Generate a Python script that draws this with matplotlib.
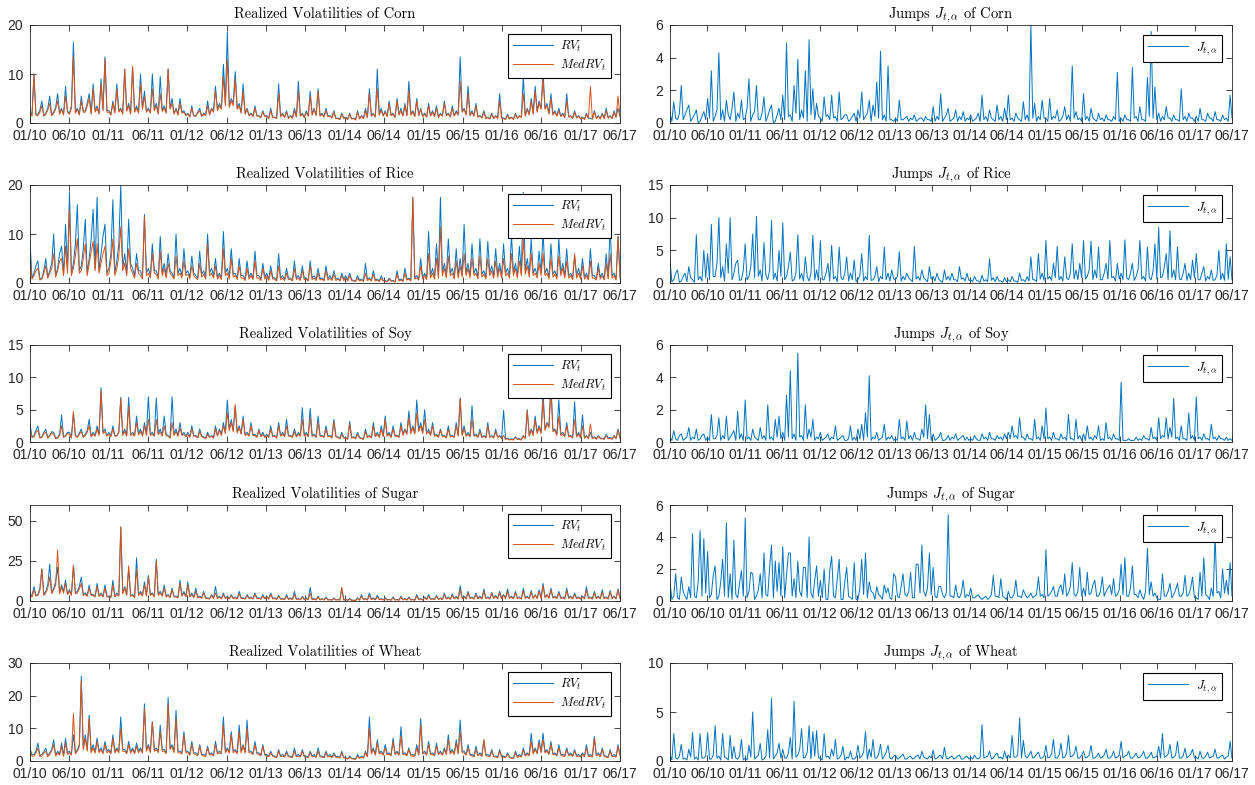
import numpy as np
import matplotlib
matplotlib.use('Agg')
import matplotlib.pyplot as plt

plt.rcParams['mathtext.fontset'] = 'cm'
plt.rcParams['font.family'] = ['Liberation Sans', 'DejaVu Sans']

########
# Data #
########

date_labels = ['01/10', '06/10', '01/11', '06/11', '01/12', '06/12', '01/13', '06/13',
               '01/14', '06/14', '01/15', '06/15', '01/16', '06/16', '01/17', '06/17']

# one row of 20 readings per tick interval (01/10-06/10, 06/10-01/11, ...)
corn_rv = [2.5, 1.5, 10.0, 1.8, 1.8, 2.6, 4.5, 1.5, 2.0, 3.0, 5.5, 1.6, 2.2, 3.2, 6.0, 2.0, 3.0, 1.8, 7.5, 2.4,
           2.0, 3.5, 16.5, 2.2, 3.0, 1.8, 5.5, 2.4, 2.5, 4.0, 6.0, 2.0, 8.0, 2.5, 3.5, 2.0, 9.0, 2.8, 13.5, 2.5,
           2.5, 1.8, 4.5, 2.2, 8.0, 2.5, 3.0, 2.0, 11.0, 2.6, 4.0, 2.0, 11.5, 2.4, 3.5, 2.2, 10.0, 3.0, 6.5, 2.5,
           3.0, 2.2, 10.0, 2.8, 4.0, 2.0, 9.5, 2.6, 3.5, 2.2, 11.0, 3.0, 5.0, 2.0, 3.0, 1.8, 5.0, 2.2, 2.5, 1.6,
           2.0, 1.3, 3.5, 1.5, 1.5, 2.2, 3.0, 1.4, 2.0, 1.6, 4.5, 1.8, 3.0, 2.5, 7.5, 2.8, 4.0, 3.0, 12.0, 4.0,
           18.5, 3.5, 5.0, 4.0, 10.5, 3.0, 4.0, 2.2, 8.0, 2.0, 3.0, 1.6, 2.0, 1.4, 3.5, 1.5, 1.5, 1.2, 2.5, 1.4,
           1.5, 1.0, 3.0, 1.2, 1.2, 1.0, 8.0, 1.4, 2.0, 1.2, 2.5, 1.0, 1.5, 1.1, 3.0, 1.3, 8.5, 1.5, 2.0, 1.2,
           2.5, 1.5, 6.5, 1.8, 3.0, 1.6, 7.0, 1.5, 2.0, 1.3, 3.0, 1.4, 1.5, 1.1, 2.5, 1.0, 1.0, 0.8, 2.0, 1.0,
           1.2, 0.8, 2.0, 0.9, 1.0, 0.7, 2.5, 0.9, 1.5, 1.0, 3.0, 1.2, 7.0, 1.5, 2.0, 1.3, 11.0, 1.8, 3.0, 1.5,
           2.5, 1.4, 4.5, 1.6, 2.0, 1.2, 5.0, 1.8, 3.0, 1.5, 4.0, 1.6, 8.5, 1.8, 2.5, 1.4, 5.0, 1.6, 3.0, 1.4,
           2.0, 1.3, 4.0, 1.5, 2.5, 1.4, 3.5, 1.2, 2.0, 1.5, 4.5, 1.6, 2.0, 1.3, 3.5, 1.5, 2.5, 1.8, 13.5, 2.5,
           3.0, 1.8, 7.5, 1.6, 2.5, 1.5, 4.0, 1.3, 1.5, 1.1, 2.5, 1.0, 1.2, 0.9, 2.0, 1.0, 1.5, 1.0, 6.0, 1.1,
           1.0, 0.8, 1.8, 0.9, 1.2, 0.8, 2.0, 1.0, 1.5, 1.2, 9.5, 1.5, 3.0, 1.8, 5.0, 2.0, 7.5, 2.5, 4.5, 3.0,
           10.5, 3.0, 4.0, 2.0, 6.0, 1.8, 2.5, 1.5, 3.0, 1.4, 2.0, 1.2, 6.0, 1.3, 1.5, 1.0, 2.5, 1.1, 1.5, 0.9,
           1.2, 0.8, 2.0, 1.0, 1.0, 0.8, 2.5, 1.0, 1.5, 0.9, 2.0, 1.0, 3.0, 1.1, 1.5, 1.0, 2.5, 1.2, 3.0, 1.4]
corn_medrv = [2.2, 1.4, 10.0, 1.6, 1.5, 2.2, 3.5, 1.4, 1.8, 2.6, 4.0, 1.5, 2.0, 2.8, 4.5, 1.8, 2.8, 1.6, 5.5, 2.2,
              1.8, 3.0, 13.5, 2.0, 2.8, 1.6, 4.5, 2.2, 2.2, 3.5, 5.0, 1.8, 7.0, 2.2, 3.0, 1.8, 8.0, 2.5, 13.0, 2.2,
              2.2, 1.6, 4.0, 2.0, 7.0, 2.2, 2.8, 1.8, 11.0, 2.4, 3.5, 1.8, 11.5, 2.2, 3.0, 2.0, 8.0, 2.8, 5.5, 2.2,
              2.8, 2.0, 7.0, 2.5, 3.5, 1.8, 6.0, 2.4, 3.0, 2.0, 11.0, 2.8, 4.0, 1.8, 2.8, 1.6, 4.0, 2.0, 2.2, 1.5,
              1.8, 1.2, 3.0, 1.4, 1.4, 2.0, 2.5, 1.3, 1.8, 1.5, 3.5, 1.6, 2.8, 2.2, 6.5, 2.5, 3.5, 2.8, 9.5, 3.5,
              13.0, 3.2, 4.5, 3.5, 9.0, 2.8, 3.5, 2.0, 6.5, 1.8, 2.8, 1.5, 1.8, 1.3, 3.0, 1.4, 1.4, 1.1, 2.2, 1.3,
              1.4, 0.9, 2.5, 1.1, 1.1, 0.9, 6.0, 1.3, 1.8, 1.1, 2.2, 0.9, 1.4, 1.0, 2.5, 1.2, 6.5, 1.4, 1.8, 1.1,
              2.2, 1.4, 5.5, 1.6, 2.8, 1.5, 6.5, 1.4, 1.8, 1.2, 2.5, 1.3, 1.4, 1.0, 2.2, 0.9, 0.9, 0.7, 1.8, 0.9,
              1.1, 0.7, 1.8, 0.8, 0.9, 0.6, 2.2, 0.8, 1.4, 0.9, 2.5, 1.1, 6.0, 1.4, 1.8, 1.2, 7.0, 1.6, 2.5, 1.4,
              2.2, 1.3, 4.0, 1.5, 1.8, 1.1, 4.5, 1.6, 2.5, 1.4, 3.5, 1.5, 6.5, 1.6, 2.2, 1.3, 4.5, 1.5, 2.8, 1.3,
              1.8, 1.2, 3.5, 1.4, 2.2, 1.3, 3.0, 1.1, 1.8, 1.4, 4.0, 1.5, 1.8, 1.2, 3.0, 1.4, 2.2, 1.6, 8.5, 2.2,
              2.8, 1.6, 6.0, 1.5, 2.2, 1.4, 3.5, 1.2, 1.4, 1.0, 2.2, 0.9, 1.1, 0.8, 1.8, 0.9, 1.4, 0.9, 4.5, 1.0,
              0.9, 0.7, 1.6, 0.8, 1.1, 0.7, 1.8, 0.9, 1.4, 1.1, 6.0, 1.4, 2.8, 1.6, 4.5, 1.8, 6.5, 2.2, 4.0, 2.8,
              9.0, 2.8, 3.5, 1.8, 5.0, 1.6, 2.2, 1.4, 2.5, 1.3, 1.8, 1.1, 4.5, 1.2, 1.4, 0.9, 2.2, 1.0, 1.4, 0.8,
              1.1, 0.7, 1.8, 0.9, 7.5, 0.8, 2.2, 0.9, 1.4, 0.8, 1.8, 0.9, 2.5, 1.0, 1.4, 0.9, 2.2, 1.1, 5.5, 1.3]
corn_jump = [0.6, 0.1, 1.3, 0.3, 0.2, 0.6, 2.3, 0.2, 0.5, 0.8, 1.1, 0.1, 0.3, 0.5, 0.8, 0.0, 0.1, 0.4, 0.7, 0.2,
             1.5, 0.3, 3.2, 0.1, 0.4, 0.8, 4.3, 0.2, 0.8, 0.1, 1.4, 0.5, 0.2, 0.9, 1.9, 0.1, 0.6, 0.3, 1.4, 0.2,
             0.3, 0.9, 2.7, 0.1, 0.5, 0.7, 2.3, 0.2, 0.2, 0.6, 1.6, 0.1, 0.4, 0.8, 1.1, 0.0, 0.1, 0.5, 0.9, 0.2,
             1.7, 0.2, 4.9, 0.4, 0.5, 0.1, 2.3, 0.6, 3.9, 0.2, 0.8, 0.3, 3.2, 0.1, 5.1, 0.5, 2.1, 0.2, 1.2, 0.4,
             0.3, 0.1, 1.6, 0.4, 0.5, 0.2, 1.7, 0.3, 0.4, 0.1, 1.9, 0.2, 0.3, 0.5, 0.5, 0.1, 0.2, 0.4, 0.6, 0.1,
             0.8, 0.3, 1.9, 0.2, 0.4, 0.6, 1.4, 0.1, 1.1, 0.4, 2.5, 0.3, 4.4, 0.2, 0.5, 0.1, 3.5, 0.2, 0.2, 0.1,
             0.3, 0.1, 1.4, 0.2, 0.2, 0.3, 0.4, 0.1, 0.3, 0.2, 0.5, 0.1, 0.2, 0.3, 0.3, 0.1, 0.4, 0.2, 0.2, 0.1,
             1.0, 0.1, 0.4, 0.2, 1.8, 0.1, 0.3, 0.5, 0.9, 0.1, 0.2, 0.3, 0.8, 0.1, 0.4, 0.2, 0.7, 0.1, 0.3, 0.2,
             0.5, 0.1, 0.2, 0.3, 0.6, 0.1, 1.7, 0.2, 0.4, 0.1, 0.8, 0.3, 0.2, 0.1, 1.1, 0.2, 0.4, 0.1, 0.9, 0.2,
             1.7, 0.2, 0.3, 0.1, 0.6, 0.3, 0.2, 0.1, 1.3, 0.2, 0.5, 0.1, 6.0, 0.3, 1.2, 0.1, 0.4, 0.2, 1.4, 0.3,
             0.3, 0.1, 1.5, 0.2, 0.4, 0.3, 0.8, 0.1, 0.2, 0.4, 1.0, 0.2, 0.5, 0.1, 3.5, 0.3, 0.7, 0.2, 0.3, 0.1,
             1.8, 0.2, 0.4, 0.1, 0.9, 0.3, 0.2, 0.1, 0.6, 0.2, 0.3, 0.1, 0.5, 0.2, 0.2, 0.1, 0.4, 0.2, 3.1, 0.1,
             0.3, 0.1, 0.5, 0.2, 0.2, 0.1, 3.4, 0.3, 0.4, 0.1, 1.0, 0.2, 0.2, 0.1, 2.8, 0.4, 5.6, 0.3, 2.2, 0.2,
             0.6, 0.1, 0.4, 0.2, 1.0, 0.3, 0.3, 0.1, 0.5, 0.2, 0.2, 0.1, 2.1, 0.2, 0.4, 0.1, 0.6, 0.3, 0.3, 0.1,
             0.4, 0.1, 0.9, 0.2, 0.2, 0.1, 0.6, 0.3, 0.3, 0.1, 0.7, 0.2, 0.2, 0.1, 0.5, 0.2, 0.3, 0.1, 1.7, 0.3]

rice_rv = [8.5, 1.0, 2.0, 3.5, 4.5, 0.8, 1.0, 2.5, 5.0, 1.2, 2.5, 4.0, 10.0, 1.5, 3.0, 6.0, 7.5, 1.8, 12.0, 2.5,
           18.5, 2.0, 4.0, 8.0, 16.0, 2.5, 3.5, 7.0, 13.0, 2.0, 5.0, 9.0, 15.0, 3.0, 17.5, 2.5, 6.0, 9.5, 12.0, 2.0,
           3.0, 6.0, 17.0, 2.0, 4.5, 8.0, 20.0, 3.0, 6.0, 2.0, 13.0, 4.0, 3.0, 1.5, 6.0, 2.5, 2.5, 1.2, 14.0, 2.0,
           3.0, 1.5, 8.0, 2.5, 2.5, 1.2, 9.5, 2.0, 4.0, 1.5, 6.0, 2.5, 2.0, 1.2, 10.0, 2.0, 3.0, 1.5, 7.0, 2.0,
           2.5, 1.2, 5.5, 2.0, 1.5, 1.0, 6.5, 1.8, 2.5, 1.2, 10.0, 2.0, 3.0, 1.5, 5.0, 1.2, 2.0, 1.0, 10.5, 2.0,
           3.0, 1.2, 7.0, 1.8, 2.0, 1.0, 5.0, 1.5, 1.5, 0.8, 4.5, 1.2, 2.0, 1.0, 6.5, 1.5, 1.5, 0.8, 4.0, 1.2,
           2.0, 0.8, 3.5, 1.2, 1.0, 0.6, 6.0, 1.0, 1.5, 0.7, 3.0, 1.0, 1.0, 0.6, 4.5, 1.0, 1.5, 0.7, 3.5, 1.0,
           1.0, 0.6, 4.5, 1.0, 1.5, 0.7, 3.0, 0.9, 1.0, 0.6, 3.5, 0.9, 1.5, 0.7, 2.5, 0.8, 1.0, 0.5, 2.0, 0.8,
           1.5, 0.6, 2.0, 0.7, 0.5, 0.4, 1.5, 0.6, 0.8, 0.4, 4.0, 0.7, 1.0, 0.5, 2.5, 0.6, 0.8, 0.4, 1.5, 0.5,
           0.5, 0.3, 1.0, 0.5, 0.5, 0.3, 2.5, 0.6, 0.8, 0.4, 3.0, 0.8, 1.0, 0.6, 17.5, 1.0, 1.5, 0.8, 5.0, 1.0,
           2.0, 1.0, 10.5, 1.5, 3.0, 1.2, 8.0, 1.5, 17.5, 2.0, 4.0, 1.5, 9.0, 2.0, 3.0, 1.2, 7.0, 1.5, 5.0, 1.8,
           12.0, 2.0, 4.0, 1.5, 8.0, 2.0, 3.0, 1.2, 9.0, 1.8, 2.5, 1.2, 8.5, 2.0, 3.5, 1.5, 7.0, 1.8, 4.0, 1.5,
           8.0, 2.0, 3.0, 1.5, 10.0, 2.0, 4.0, 1.5, 7.5, 2.0, 18.5, 2.5, 5.0, 1.8, 9.0, 2.0, 3.0, 1.5, 6.5, 2.0,
           10.5, 2.0, 3.0, 1.2, 8.0, 1.8, 2.5, 1.2, 9.0, 2.0, 4.0, 1.5, 7.0, 1.5, 2.0, 1.0, 5.5, 1.5, 3.0, 1.2,
           5.0, 1.2, 2.0, 0.8, 7.0, 1.5, 1.5, 0.8, 4.0, 1.2, 2.0, 0.8, 6.0, 1.2, 11.5, 1.5, 2.0, 0.8, 9.5, 1.5]
rice_medrv = [5.5, 0.8, 1.5, 2.5, 3.0, 0.6, 0.8, 2.0, 3.5, 1.0, 2.0, 3.0, 6.0, 1.2, 2.5, 4.5, 5.0, 1.5, 7.5, 2.0,
              15.0, 1.5, 3.0, 5.5, 9.0, 2.0, 2.5, 5.0, 8.0, 1.5, 4.0, 6.5, 8.5, 2.5, 8.0, 2.0, 4.0, 6.0, 7.5, 1.5,
              2.0, 4.5, 9.0, 1.5, 3.0, 5.5, 11.5, 2.5, 4.0, 1.5, 7.0, 3.0, 2.0, 1.0, 4.0, 2.0, 1.5, 0.8, 13.5, 1.5,
              2.0, 1.0, 6.0, 2.0, 1.8, 0.8, 6.5, 1.5, 3.0, 1.0, 4.0, 2.0, 1.5, 0.8, 5.5, 1.5, 2.0, 1.0, 4.5, 1.5,
              1.8, 0.8, 3.5, 1.5, 1.0, 0.7, 4.0, 1.2, 1.8, 0.8, 8.0, 1.5, 2.0, 1.0, 3.5, 0.8, 1.5, 0.7, 7.0, 1.5,
              2.0, 0.8, 5.0, 1.2, 1.5, 0.7, 3.5, 1.0, 1.0, 0.5, 3.0, 0.8, 1.5, 0.7, 4.5, 1.0, 1.0, 0.5, 3.0, 0.8,
              1.5, 0.5, 2.5, 0.8, 0.8, 0.4, 3.5, 0.7, 1.0, 0.5, 2.0, 0.7, 0.8, 0.4, 3.0, 0.7, 1.0, 0.5, 2.5, 0.7,
              0.8, 0.4, 3.5, 0.7, 1.0, 0.5, 2.0, 0.6, 0.8, 0.4, 2.5, 0.6, 1.0, 0.5, 1.8, 0.5, 0.8, 0.4, 1.5, 0.5,
              1.0, 0.4, 1.5, 0.5, 0.4, 0.3, 1.0, 0.4, 0.6, 0.3, 2.0, 0.5, 0.8, 0.4, 1.8, 0.4, 0.6, 0.3, 1.0, 0.4,
              0.4, 0.2, 0.8, 0.4, 0.4, 0.2, 1.8, 0.4, 0.6, 0.3, 2.0, 0.6, 0.8, 0.4, 17.5, 0.8, 1.0, 0.6, 3.5, 0.8,
              1.5, 0.7, 6.0, 1.0, 2.0, 0.8, 5.0, 1.0, 11.5, 1.5, 3.0, 1.0, 5.5, 1.5, 2.0, 0.8, 4.5, 1.0, 3.5, 1.2,
              6.0, 1.5, 3.0, 1.0, 5.0, 1.5, 2.0, 0.8, 5.5, 1.2, 1.8, 0.8, 5.0, 1.5, 2.5, 1.0, 4.5, 1.2, 3.0, 1.0,
              5.0, 1.5, 2.0, 1.0, 6.0, 1.5, 3.0, 1.0, 4.5, 1.5, 9.0, 1.8, 3.5, 1.2, 6.0, 1.5, 2.0, 1.0, 4.0, 1.5,
              6.0, 1.5, 2.0, 0.8, 5.0, 1.2, 1.8, 0.8, 5.5, 1.5, 3.0, 1.0, 4.5, 1.0, 1.5, 0.7, 6.0, 1.0, 2.0, 0.8,
              3.5, 0.8, 1.5, 0.6, 4.5, 1.0, 1.0, 0.6, 3.0, 0.8, 1.5, 0.6, 4.0, 0.8, 6.0, 1.0, 1.5, 0.6, 9.5, 1.0]
rice_jump = [3.5, 0.2, 0.5, 1.5, 2.0, 0.1, 0.3, 1.0, 1.5, 0.2, 2.5, 0.8, 0.5, 0.1, 7.4, 0.5, 1.0, 0.3, 5.0, 0.8,
             4.5, 0.5, 9.0, 1.0, 1.0, 3.0, 10.0, 0.8, 2.5, 0.3, 6.0, 1.5, 10.0, 0.5, 1.5, 3.0, 3.5, 0.4, 0.5, 2.0,
             6.0, 0.5, 1.0, 2.5, 7.5, 0.8, 10.2, 1.0, 2.0, 0.3, 6.2, 1.2, 0.5, 2.0, 9.6, 0.6, 1.5, 0.3, 5.0, 1.0,
             9.2, 0.5, 1.0, 2.5, 4.7, 0.3, 0.5, 1.5, 7.4, 0.6, 1.5, 0.3, 4.0, 1.0, 0.3, 1.5, 7.3, 0.5, 2.0, 0.4,
             6.5, 0.5, 0.5, 1.5, 3.0, 0.3, 5.8, 0.6, 1.0, 0.2, 5.5, 0.8, 0.5, 1.5, 4.0, 0.3, 1.5, 0.5, 3.5, 0.2,
             0.5, 1.2, 4.5, 0.3, 1.0, 0.5, 7.3, 0.4, 0.5, 1.0, 2.5, 0.2, 1.0, 0.6, 5.5, 0.5, 1.5, 0.3, 2.0, 0.6,
             0.5, 1.0, 4.8, 0.3, 1.0, 0.5, 1.5, 0.8, 0.5, 0.2, 5.6, 0.6, 1.0, 0.4, 2.0, 0.8, 0.5, 0.2, 2.5, 0.6,
             1.0, 0.3, 1.5, 0.6, 0.3, 0.1, 2.0, 0.5, 1.0, 0.4, 1.5, 0.5, 0.5, 0.2, 2.5, 0.6, 0.8, 0.3, 1.5, 0.4,
             0.5, 0.2, 1.0, 0.4, 0.3, 0.1, 1.2, 0.3, 0.5, 0.2, 3.7, 0.4, 0.8, 0.2, 1.0, 0.3, 0.3, 0.1, 0.8, 0.2,
             0.5, 0.2, 1.0, 0.3, 0.3, 0.1, 1.5, 0.4, 0.5, 0.2, 1.0, 0.3, 4.0, 0.5, 0.5, 0.2, 4.5, 0.6, 1.5, 0.4,
             6.5, 0.6, 1.0, 0.4, 3.0, 0.8, 5.6, 0.5, 1.0, 0.3, 4.0, 0.8, 0.5, 1.5, 6.0, 0.6, 2.0, 0.5, 3.0, 0.8,
             6.5, 0.6, 1.0, 2.0, 6.4, 0.5, 2.0, 0.8, 5.5, 0.5, 0.5, 1.5, 3.0, 0.6, 6.5, 0.8, 1.0, 0.3, 3.0, 0.6,
             1.5, 0.5, 6.6, 0.8, 0.5, 1.5, 3.0, 0.4, 1.0, 2.0, 6.5, 0.6, 1.0, 0.3, 5.5, 0.8, 0.5, 1.8, 6.0, 0.6,
             8.5, 0.8, 1.0, 2.5, 4.5, 0.5, 8.0, 0.8, 2.0, 0.5, 5.5, 0.6, 0.5, 1.5, 3.0, 0.4, 1.5, 0.5, 3.5, 0.8,
             4.5, 0.5, 0.5, 1.5, 2.5, 0.3, 1.0, 0.6, 2.0, 0.4, 0.5, 1.2, 5.0, 0.5, 1.5, 0.4, 6.0, 0.6, 4.0, 0.5]

soy_rv = [2.8, 0.8, 1.0, 1.8, 2.5, 0.7, 0.8, 1.5, 2.0, 0.7, 1.0, 1.6, 1.5, 0.6, 0.7, 1.2, 4.2, 0.8, 1.0, 1.5,
          1.5, 0.7, 4.5, 1.0, 0.8, 1.4, 2.0, 0.8, 1.2, 1.8, 3.5, 0.9, 1.5, 1.0, 2.5, 1.2, 8.4, 1.5, 2.0, 1.0,
          1.5, 0.9, 2.5, 1.0, 1.0, 1.6, 6.9, 1.2, 2.0, 1.0, 6.9, 1.2, 1.5, 1.0, 4.0, 1.3, 2.0, 1.0, 3.0, 1.2,
          7.0, 1.2, 1.5, 1.0, 6.8, 1.3, 2.0, 1.0, 4.0, 1.2, 1.0, 0.7, 7.0, 1.2, 2.0, 1.0, 3.0, 1.1, 1.5, 0.9,
          1.5, 0.8, 2.5, 1.0, 1.0, 0.7, 2.0, 0.9, 0.8, 0.6, 1.5, 0.8, 1.0, 0.7, 2.5, 1.0, 2.0, 1.2, 3.0, 1.5,
          6.5, 2.0, 3.5, 1.8, 5.5, 1.6, 2.5, 1.3, 4.0, 1.2, 1.5, 1.0, 3.0, 1.1, 1.2, 0.8, 2.0, 0.9, 1.5, 0.8,
          1.2, 0.8, 2.5, 0.9, 1.0, 0.7, 3.0, 1.0, 1.5, 0.9, 3.5, 1.0, 1.0, 0.8, 2.0, 0.9, 1.5, 1.0, 5.3, 1.0,
          1.5, 0.9, 5.2, 1.0, 1.2, 0.8, 4.0, 1.0, 1.0, 0.8, 2.5, 0.9, 1.0, 0.7, 3.5, 0.9, 0.8, 0.6, 1.5, 0.7,
          0.7, 0.5, 3.2, 0.7, 0.8, 0.6, 1.5, 0.7, 0.6, 0.5, 2.0, 0.8, 1.0, 0.7, 3.0, 0.9, 1.5, 0.8, 2.5, 0.9,
          4.0, 1.0, 1.5, 0.8, 2.5, 1.0, 1.0, 0.8, 3.0, 1.2, 2.0, 1.3, 4.8, 1.5, 2.5, 1.4, 6.5, 1.8, 3.0, 1.5,
          5.0, 1.4, 2.0, 1.1, 3.0, 1.0, 1.2, 0.8, 2.0, 0.9, 1.0, 0.7, 2.5, 0.9, 1.0, 0.8, 3.0, 1.0, 6.8, 1.2,
          2.5, 1.0, 1.5, 0.9, 5.6, 1.0, 1.2, 0.8, 2.0, 0.8, 1.0, 0.7, 3.0, 0.8, 1.0, 0.7, 2.0, 0.8, 1.0, 0.6,
          4.9, 0.5, 0.6, 0.4, 0.5, 0.4, 0.8, 0.5, 0.5, 0.4, 1.0, 0.6, 5.0, 1.0, 2.0, 1.2, 4.0, 1.5, 2.5, 1.5,
          7.8, 2.0, 3.0, 2.5, 9.0, 1.8, 2.0, 1.2, 6.5, 1.2, 1.5, 0.9, 3.0, 0.9, 1.0, 0.7, 6.2, 0.9, 1.5, 0.7,
          4.2, 0.7, 1.0, 0.6, 1.5, 0.6, 0.8, 0.5, 1.0, 0.6, 0.6, 0.5, 1.2, 0.6, 0.7, 0.5, 1.0, 0.6, 2.0, 0.7]
soy_medrv = [2.0, 0.7, 0.8, 1.5, 1.8, 0.6, 0.7, 1.3, 1.5, 0.6, 0.9, 1.4, 1.2, 0.5, 0.6, 1.0, 2.5, 0.7, 0.9, 1.3,
             1.2, 0.6, 4.7, 0.9, 0.7, 1.2, 1.6, 0.7, 1.0, 1.5, 2.5, 0.8, 1.2, 0.9, 2.0, 1.0, 8.0, 1.3, 1.6, 0.9,
             1.2, 0.8, 2.0, 0.9, 0.9, 1.4, 6.7, 1.0, 1.6, 0.9, 5.5, 1.0, 1.2, 0.9, 3.0, 1.1, 1.6, 0.9, 2.5, 1.0,
             3.5, 1.0, 1.2, 0.9, 3.5, 1.1, 1.6, 0.9, 2.5, 1.0, 0.9, 0.6, 3.0, 1.0, 1.6, 0.9, 2.2, 1.0, 1.2, 0.8,
             1.2, 0.7, 2.0, 0.9, 0.9, 0.6, 1.6, 0.8, 0.7, 0.5, 1.2, 0.7, 0.9, 0.6, 2.0, 0.9, 1.8, 1.0, 2.5, 1.3,
             4.5, 1.8, 3.0, 1.6, 5.8, 1.4, 2.2, 1.2, 3.5, 1.0, 1.2, 0.9, 2.5, 1.0, 1.0, 0.7, 1.8, 0.8, 1.2, 0.7,
             1.0, 0.7, 2.0, 0.8, 0.9, 0.6, 2.5, 0.9, 1.2, 0.8, 2.5, 0.9, 0.9, 0.7, 1.6, 0.8, 1.2, 0.9, 3.5, 0.9,
             1.2, 0.8, 3.8, 0.9, 1.0, 0.7, 3.0, 0.9, 0.9, 0.7, 2.0, 0.8, 0.9, 0.6, 3.2, 0.8, 0.7, 0.5, 1.2, 0.6,
             0.6, 0.4, 2.8, 0.6, 0.7, 0.5, 1.2, 0.6, 0.5, 0.4, 1.6, 0.7, 0.9, 0.6, 2.5, 0.8, 1.2, 0.7, 2.0, 0.8,
             3.5, 0.9, 1.2, 0.7, 2.0, 0.9, 0.9, 0.7, 2.5, 1.0, 1.8, 1.2, 3.8, 1.3, 2.2, 1.2, 4.5, 1.6, 2.5, 1.3,
             3.5, 1.2, 1.6, 1.0, 2.5, 0.9, 1.0, 0.7, 1.8, 0.8, 0.9, 0.6, 2.0, 0.8, 0.9, 0.7, 2.5, 0.9, 6.7, 1.0,
             2.0, 0.9, 1.2, 0.8, 3.5, 0.9, 1.0, 0.7, 1.6, 0.7, 0.9, 0.6, 2.5, 0.7, 0.9, 0.6, 1.6, 0.7, 0.9, 0.5,
             1.0, 0.4, 0.5, 0.3, 0.4, 0.3, 0.7, 0.4, 0.4, 0.3, 0.9, 0.5, 4.8, 0.9, 1.8, 1.0, 3.5, 1.3, 2.2, 1.3,
             6.5, 1.8, 2.8, 2.2, 8.5, 1.6, 1.8, 1.0, 4.0, 1.0, 1.2, 0.8, 2.5, 0.8, 0.9, 0.6, 3.5, 0.8, 1.2, 0.6,
             2.5, 0.6, 0.9, 0.5, 2.8, 0.5, 0.7, 0.4, 0.9, 0.5, 0.5, 0.4, 1.0, 0.5, 0.6, 0.4, 0.9, 0.5, 1.8, 0.6]
soy_jump = [0.3, 0.1, 0.7, 0.2, 0.1, 0.4, 0.5, 0.1, 0.2, 0.3, 0.9, 0.1, 0.3, 0.2, 0.8, 0.1, 0.2, 0.4, 0.5, 0.1,
            0.3, 0.1, 1.7, 0.2, 0.2, 0.4, 1.5, 0.1, 0.4, 0.2, 1.6, 0.1, 0.3, 0.5, 0.7, 0.1, 1.9, 0.2, 0.5, 0.1,
            2.6, 0.2, 0.3, 0.1, 0.8, 0.3, 0.2, 0.1, 0.9, 0.2, 0.4, 0.1, 2.3, 0.2, 0.3, 0.1, 1.4, 0.3, 1.6, 0.2,
            0.6, 0.1, 2.9, 0.3, 4.4, 0.2, 0.5, 0.1, 5.5, 0.3, 0.4, 0.1, 2.3, 0.2, 0.8, 0.3, 1.4, 0.1, 0.3, 0.2,
            0.6, 0.1, 0.2, 0.3, 0.5, 0.1, 0.3, 0.2, 1.0, 0.1, 0.2, 0.3, 0.4, 0.1, 0.1, 0.2, 1.0, 0.1, 0.3, 0.1,
            0.8, 0.2, 1.1, 0.1, 1.8, 0.3, 4.1, 0.1, 0.3, 0.2, 0.6, 0.1, 0.2, 0.3, 1.1, 0.1, 0.3, 0.2, 0.4, 0.1,
            0.2, 0.1, 1.4, 0.2, 0.3, 0.1, 1.3, 0.2, 0.4, 0.1, 0.6, 0.2, 0.2, 0.1, 0.8, 0.3, 2.3, 0.2, 1.7, 0.1,
            0.5, 0.1, 0.2, 0.3, 0.6, 0.1, 0.1, 0.2, 0.4, 0.1, 0.3, 0.2, 0.5, 0.1, 0.2, 0.3, 0.4, 0.1, 0.3, 0.1,
            0.2, 0.1, 0.4, 0.2, 0.1, 0.1, 0.5, 0.2, 0.3, 0.1, 0.6, 0.2, 0.2, 0.1, 0.4, 0.2, 0.3, 0.1, 0.5, 0.2,
            0.6, 0.2, 1.0, 0.3, 0.4, 0.2, 1.5, 0.3, 0.3, 0.1, 0.5, 0.2, 0.2, 0.1, 1.4, 0.2, 0.3, 0.1, 1.0, 0.2,
            2.1, 0.2, 0.3, 0.1, 0.6, 0.2, 0.2, 0.1, 0.5, 0.2, 0.3, 0.1, 1.7, 0.2, 0.2, 0.1, 1.4, 0.2, 0.4, 0.1,
            0.5, 0.1, 1.0, 0.2, 0.3, 0.1, 0.4, 0.2, 1.0, 0.1, 0.2, 0.1, 1.2, 0.2, 0.3, 0.1, 0.5, 0.2, 0.2, 0.1,
            3.7, 0.1, 0.1, 0.1, 0.2, 0.1, 0.1, 0.1, 0.3, 0.1, 0.2, 0.1, 0.4, 0.2, 0.2, 0.1, 0.9, 0.2, 0.3, 0.1,
            1.5, 0.2, 0.4, 0.3, 1.5, 0.2, 0.9, 0.3, 2.7, 0.2, 0.3, 0.1, 1.0, 0.2, 0.2, 0.1, 1.8, 0.2, 0.4, 0.1,
            2.8, 0.2, 0.3, 0.1, 0.5, 0.2, 0.2, 0.1, 1.1, 0.2, 0.3, 0.1, 0.4, 0.2, 0.2, 0.1, 0.3, 0.1, 0.2, 0.1]

sugar_rv = [5.0, 3.0, 9.0, 3.5, 4.0, 8.0, 20.0, 4.0, 6.0, 10.0, 23.0, 5.0, 8.0, 12.0, 21.0, 5.0, 10.0, 6.0, 13.0, 4.5,
            7.0, 4.0, 22.0, 5.0, 6.0, 9.0, 15.0, 4.0, 5.0, 3.5, 10.0, 4.0, 4.0, 3.0, 11.0, 3.5, 5.0, 3.0, 10.0, 3.0,
            3.0, 2.5, 13.0, 3.0, 5.0, 3.5, 46.0, 5.0, 9.0, 4.0, 20.0, 3.5, 4.0, 2.5, 27.0, 4.0, 6.0, 3.5, 12.0, 3.5,
            16.0, 4.0, 5.0, 3.0, 26.0, 4.0, 6.0, 3.5, 10.0, 3.0, 4.0, 2.5, 8.0, 3.0, 3.0, 2.5, 13.0, 3.5, 6.0, 3.0,
            12.0, 3.0, 5.0, 2.5, 8.0, 2.5, 3.0, 2.0, 6.0, 2.0, 2.0, 1.5, 4.0, 1.8, 9.0, 2.0, 3.0, 1.5, 5.0, 1.8,
            3.0, 1.5, 4.0, 1.8, 2.5, 1.5, 6.0, 2.0, 2.0, 1.5, 4.0, 1.8, 2.5, 1.5, 5.0, 1.8, 2.0, 1.4, 4.0, 1.6,
            3.0, 1.4, 5.0, 1.6, 2.0, 1.2, 3.5, 1.4, 1.5, 1.0, 4.0, 1.2, 2.0, 1.0, 6.0, 1.2, 1.5, 0.9, 3.0, 1.0,
            2.0, 0.9, 8.5, 1.0, 1.5, 0.8, 3.0, 0.9, 1.5, 0.8, 2.5, 0.8, 1.0, 0.6, 2.0, 0.7, 1.0, 0.6, 8.0, 0.7,
            1.0, 0.5, 1.5, 0.5, 0.5, 0.4, 2.0, 0.6, 4.0, 1.0, 1.5, 0.8, 5.0, 1.0, 2.0, 0.9, 3.5, 1.0, 1.5, 0.8,
            2.0, 0.8, 1.0, 0.6, 2.5, 0.8, 1.0, 0.6, 3.0, 0.9, 1.5, 0.7, 2.5, 0.8, 1.0, 0.6, 4.0, 1.0, 1.5, 0.8,
            2.5, 1.0, 4.0, 1.2, 1.5, 1.0, 3.5, 1.2, 2.0, 1.0, 5.0, 1.5, 2.5, 1.2, 4.5, 1.5, 3.0, 1.4, 9.5, 1.8,
            3.0, 1.5, 6.0, 1.8, 2.5, 1.4, 5.0, 1.6, 3.0, 1.5, 7.5, 2.0, 2.5, 1.5, 5.5, 1.8, 3.5, 1.6, 6.0, 1.8,
            4.0, 1.8, 7.5, 2.0, 3.0, 1.6, 6.0, 1.8, 2.5, 1.5, 8.0, 2.0, 3.0, 1.6, 6.5, 1.8, 4.0, 1.8, 7.0, 2.0,
            11.0, 2.5, 4.0, 2.0, 8.0, 2.2, 3.0, 1.8, 6.0, 2.0, 2.5, 1.6, 8.0, 2.0, 3.0, 1.6, 5.0, 1.8, 2.5, 1.5,
            3.0, 1.6, 9.0, 2.0, 2.5, 1.5, 6.0, 1.8, 3.0, 1.6, 7.0, 1.8, 2.5, 1.5, 6.5, 1.8, 3.0, 1.6, 7.5, 2.0]
sugar_medrv = [4.0, 2.5, 7.0, 3.0, 3.5, 6.5, 20.0, 3.5, 5.0, 8.0, 15.0, 4.5, 7.0, 10.0, 32.0, 4.5, 9.0, 5.0, 11.0, 4.0,
               6.0, 3.5, 22.5, 4.5, 5.0, 7.5, 11.0, 3.5, 4.0, 3.0, 8.0, 3.5, 3.5, 2.5, 9.0, 3.0, 4.0, 2.5, 8.0, 2.5,
               2.5, 2.0, 10.0, 2.5, 4.0, 3.0, 46.5, 4.5, 8.0, 3.5, 22.0, 3.0, 3.5, 2.0, 20.0, 3.5, 5.0, 3.0, 10.0, 3.0,
               15.0, 3.5, 4.5, 2.5, 25.0, 3.5, 5.0, 3.0, 8.0, 2.5, 3.5, 2.0, 7.0, 2.5, 2.5, 2.0, 11.0, 3.0, 5.0, 2.5,
               10.0, 2.5, 4.0, 2.0, 6.0, 2.0, 2.5, 1.6, 5.0, 1.6, 1.5, 1.2, 3.5, 1.5, 5.0, 1.6, 2.5, 1.2, 4.0, 1.5,
               2.5, 1.2, 3.5, 1.5, 2.0, 1.2, 4.5, 1.6, 1.5, 1.2, 3.5, 1.5, 2.0, 1.2, 4.0, 1.5, 1.5, 1.1, 3.0, 1.3,
               2.5, 1.1, 4.0, 1.3, 1.5, 1.0, 3.0, 1.1, 1.2, 0.8, 3.0, 1.0, 1.5, 0.8, 4.0, 1.0, 1.2, 0.7, 2.5, 0.8,
               1.5, 0.7, 5.0, 0.8, 1.2, 0.6, 2.5, 0.7, 1.2, 0.6, 2.0, 0.6, 0.8, 0.5, 1.5, 0.6, 0.8, 0.5, 8.5, 0.6,
               0.8, 0.4, 1.2, 0.4, 0.4, 0.3, 1.5, 0.5, 3.0, 0.8, 1.2, 0.6, 3.5, 0.8, 1.5, 0.7, 2.5, 0.8, 1.2, 0.6,
               1.5, 0.6, 0.8, 0.5, 2.0, 0.6, 0.8, 0.5, 2.5, 0.7, 1.2, 0.6, 2.0, 0.6, 0.8, 0.5, 3.0, 0.8, 1.2, 0.6,
               2.0, 0.8, 3.0, 1.0, 1.2, 0.8, 3.0, 1.0, 1.5, 0.8, 4.0, 1.2, 2.0, 1.0, 3.5, 1.2, 2.5, 1.1, 7.0, 1.5,
               2.5, 1.2, 5.0, 1.5, 2.0, 1.1, 4.0, 1.3, 2.5, 1.2, 6.0, 1.6, 2.0, 1.2, 4.5, 1.5, 3.0, 1.3, 5.0, 1.5,
               3.5, 1.5, 6.0, 1.6, 2.5, 1.3, 5.0, 1.5, 2.0, 1.2, 6.5, 1.6, 2.5, 1.3, 5.5, 1.5, 3.5, 1.5, 6.0, 1.6,
               9.5, 2.0, 3.5, 1.6, 7.0, 1.8, 2.5, 1.5, 5.0, 1.6, 2.0, 1.3, 6.5, 1.6, 2.5, 1.3, 4.0, 1.5, 2.0, 1.2,
               2.5, 1.3, 7.0, 1.6, 2.0, 1.2, 5.0, 1.5, 2.5, 1.3, 5.5, 1.5, 2.0, 1.2, 5.5, 1.5, 2.5, 1.3, 7.0, 1.6]
sugar_jump = [1.2, 0.1, 0.3, 1.7, 0.2, 0.1, 1.5, 0.6, 0.3, 0.1, 0.9, 0.2, 4.2, 0.3, 0.2, 1.2, 4.4, 0.3, 3.9, 0.5,
              3.1, 0.2, 0.4, 1.6, 2.2, 0.1, 0.3, 1.2, 2.6, 0.3, 4.9, 0.2, 1.7, 0.1, 3.8, 0.4, 0.2, 1.1, 1.9, 0.3,
              5.2, 0.2, 0.6, 1.8, 1.7, 0.1, 0.3, 0.7, 1.7, 0.2, 3.0, 0.4, 0.3, 2.1, 3.5, 0.2, 2.5, 0.6, 2.4, 0.3,
              3.4, 0.2, 1.6, 3.0, 3.0, 0.3, 1.4, 0.2, 2.5, 0.6, 0.3, 2.1, 2.1, 0.2, 4.0, 0.5, 0.2, 1.3, 2.2, 0.3,
              1.3, 0.2, 2.0, 0.1, 0.1, 1.9, 2.8, 0.3, 0.2, 1.4, 2.6, 0.1, 0.1, 1.2, 2.1, 0.3, 0.2, 0.1, 2.4, 0.1,
              0.1, 0.8, 2.6, 0.4, 3.0, 0.2, 1.2, 0.6, 0.5, 0.1, 0.9, 0.4, 0.3, 0.1, 1.0, 0.5, 0.8, 0.2, 0.1, 1.7,
              1.5, 0.3, 0.2, 0.9, 1.7, 0.4, 0.3, 0.6, 1.8, 0.2, 0.2, 2.3, 2.3, 0.5, 3.5, 0.6, 0.3, 0.8, 3.0, 0.4,
              2.1, 0.3, 0.2, 0.9, 0.9, 0.4, 0.2, 0.5, 5.4, 0.3, 0.3, 0.2, 1.0, 0.3, 0.2, 0.5, 1.3, 0.2, 0.4, 0.3,
              0.8, 0.2, 0.2, 0.3, 0.4, 0.2, 0.1, 0.2, 0.3, 0.1, 0.2, 0.4, 1.6, 0.3, 0.3, 0.2, 1.4, 0.3, 0.2, 0.1,
              0.6, 0.2, 0.2, 0.4, 1.3, 0.3, 0.3, 0.2, 0.7, 0.4, 0.2, 0.3, 0.5, 0.2, 0.3, 0.4, 1.5, 0.3, 0.4, 0.2,
              3.2, 0.3, 0.4, 0.6, 0.9, 0.3, 0.3, 0.8, 1.0, 0.4, 1.7, 0.3, 0.5, 0.9, 2.4, 0.4, 0.3, 0.6, 2.1, 0.3,
              0.8, 0.3, 1.8, 0.4, 0.5, 1.0, 1.3, 0.3, 0.3, 0.6, 1.5, 0.3, 0.6, 0.8, 1.0, 0.4, 1.4, 0.3, 0.4, 0.7,
              2.3, 0.4, 2.7, 0.3, 0.3, 0.8, 2.2, 0.4, 0.4, 0.2, 0.7, 0.3, 0.1, 0.6, 3.3, 0.4, 1.2, 0.3, 0.5, 0.2,
              0.1, 0.1, 1.7, 0.3, 0.3, 0.6, 1.1, 0.2, 0.4, 0.7, 1.1, 0.3, 0.3, 0.5, 1.6, 0.3, 0.4, 0.8, 1.5, 0.2,
              0.2, 0.1, 1.8, 0.3, 2.7, 0.4, 0.3, 0.1, 0.8, 0.3, 4.1, 0.5, 0.6, 0.2, 2.0, 0.5, 1.3, 0.4, 2.4, 0.3]

wheat_rv = [4.0, 1.8, 2.0, 3.0, 5.5, 1.6, 2.0, 2.8, 4.0, 1.5, 2.5, 3.5, 6.5, 1.8, 3.0, 2.2, 5.5, 1.6, 7.0, 2.5,
            3.0, 2.0, 8.0, 2.5, 3.5, 5.0, 26.0, 4.0, 8.0, 3.5, 14.0, 3.0, 5.0, 2.8, 7.0, 3.0, 4.0, 2.5, 6.0, 3.0,
            3.5, 2.5, 8.0, 3.0, 4.0, 3.0, 13.5, 3.5, 3.5, 2.5, 6.0, 2.8, 4.0, 2.5, 5.5, 3.0, 4.0, 2.8, 17.5, 3.5,
            5.0, 3.0, 12.0, 3.5, 4.0, 3.0, 11.0, 3.5, 3.5, 2.5, 19.5, 4.0, 5.0, 3.0, 15.5, 3.0, 3.0, 2.5, 9.0, 3.0,
            3.0, 2.0, 6.0, 2.5, 2.5, 1.8, 5.0, 2.0, 2.0, 1.6, 4.5, 2.0, 2.5, 1.8, 6.0, 2.5, 3.0, 2.5, 13.5, 3.0,
            4.0, 2.8, 9.0, 3.0, 3.5, 2.5, 11.0, 3.0, 5.0, 2.8, 12.5, 3.0, 3.0, 2.2, 6.0, 2.5, 2.5, 1.8, 5.0, 2.0,
            2.0, 1.5, 3.0, 1.6, 1.5, 1.2, 3.5, 1.5, 2.0, 1.4, 3.0, 1.5, 1.5, 1.2, 4.0, 1.5, 2.0, 1.4, 3.5, 1.5,
            1.5, 1.2, 3.0, 1.5, 2.0, 1.3, 4.0, 1.5, 1.5, 1.2, 3.0, 1.4, 2.0, 1.2, 2.5, 1.3, 1.5, 1.0, 3.0, 1.2,
            1.0, 0.7, 1.5, 0.8, 0.8, 0.6, 2.0, 0.9, 1.5, 1.0, 3.0, 1.5, 13.5, 2.5, 4.0, 2.0, 6.5, 2.5, 3.0, 2.0,
            5.0, 2.2, 2.5, 1.8, 7.0, 2.2, 3.0, 2.0, 10.5, 2.2, 2.5, 1.8, 4.0, 1.8, 2.0, 1.6, 5.0, 2.0, 13.0, 2.5,
            3.0, 2.0, 6.0, 2.2, 2.5, 1.8, 5.5, 2.2, 3.0, 2.0, 4.0, 2.2, 8.0, 2.5, 3.5, 2.2, 6.5, 2.5, 12.5, 3.0,
            3.0, 2.0, 5.0, 2.0, 2.0, 1.5, 4.5, 1.8, 2.5, 1.6, 6.5, 1.8, 2.0, 1.5, 3.5, 1.5, 1.5, 1.2, 3.5, 1.4,
            1.5, 1.1, 2.5, 1.2, 1.0, 0.9, 3.0, 1.3, 2.0, 1.4, 4.0, 1.8, 2.5, 1.8, 8.5, 2.5, 4.0, 2.5, 6.5, 2.8,
            8.5, 2.8, 3.5, 2.2, 6.0, 2.2, 2.5, 1.8, 5.0, 2.0, 2.0, 1.6, 4.0, 1.8, 2.5, 1.6, 3.5, 1.6, 2.0, 1.4,
            2.5, 1.5, 5.0, 1.6, 2.0, 1.4, 7.5, 1.8, 2.5, 1.5, 4.0, 1.6, 1.5, 1.2, 3.5, 1.5, 2.0, 1.4, 5.0, 1.8]
wheat_medrv = [3.0, 1.5, 1.5, 2.5, 4.0, 1.4, 1.5, 2.4, 3.0, 1.3, 2.0, 3.0, 5.0, 1.5, 2.5, 1.8, 4.5, 1.4, 5.5, 2.0,
               2.5, 1.8, 14.5, 2.2, 3.0, 4.5, 24.5, 3.5, 7.0, 3.0, 13.0, 2.5, 4.0, 2.4, 6.0, 2.5, 3.5, 2.2, 5.0, 2.5,
               3.0, 2.2, 7.0, 2.5, 3.5, 2.5, 10.0, 3.0, 3.0, 2.2, 5.0, 2.4, 3.5, 2.2, 4.5, 2.5, 3.5, 2.4, 16.0, 3.0,
               4.5, 2.5, 12.0, 3.0, 3.5, 2.5, 9.0, 3.0, 3.0, 2.2, 17.5, 3.5, 4.5, 2.5, 13.0, 2.5, 2.5, 2.2, 8.0, 2.5,
               2.5, 1.8, 5.0, 2.2, 2.0, 1.6, 4.5, 1.8, 1.5, 1.4, 4.0, 1.8, 2.0, 1.6, 5.0, 2.2, 2.5, 2.2, 11.0, 2.5,
               3.5, 2.4, 8.0, 2.5, 3.0, 2.2, 9.0, 2.5, 4.5, 2.4, 10.0, 2.5, 2.5, 2.0, 5.0, 2.2, 2.0, 1.6, 4.5, 1.8,
               1.5, 1.3, 2.5, 1.4, 1.2, 1.0, 3.0, 1.3, 1.5, 1.2, 2.5, 1.3, 1.2, 1.0, 3.0, 1.3, 1.5, 1.2, 3.0, 1.3,
               1.2, 1.0, 2.5, 1.3, 1.5, 1.1, 3.0, 1.3, 1.2, 1.0, 2.5, 1.2, 1.5, 1.0, 2.0, 1.1, 1.2, 0.9, 2.5, 1.0,
               0.8, 0.6, 1.2, 0.7, 0.6, 0.5, 1.5, 0.8, 1.2, 0.9, 2.5, 1.3, 10.0, 2.2, 3.5, 1.8, 5.5, 2.2, 2.5, 1.8,
               4.0, 2.0, 2.0, 1.6, 6.0, 2.0, 2.5, 1.8, 7.5, 2.0, 2.0, 1.6, 3.5, 1.6, 1.5, 1.4, 4.0, 1.8, 11.0, 2.2,
               2.5, 1.8, 5.0, 2.0, 2.0, 1.6, 4.5, 2.0, 2.5, 1.8, 3.5, 2.0, 6.5, 2.2, 3.0, 2.0, 5.5, 2.2, 9.0, 2.5,
               2.5, 1.8, 4.0, 1.8, 1.5, 1.3, 3.5, 1.6, 2.0, 1.4, 6.5, 1.6, 1.5, 1.3, 3.0, 1.3, 1.2, 1.0, 3.0, 1.2,
               1.2, 1.0, 2.0, 1.1, 0.8, 0.8, 2.5, 1.1, 1.5, 1.2, 3.5, 1.6, 2.0, 1.6, 6.0, 2.2, 3.5, 2.2, 5.5, 2.5,
               6.5, 2.5, 3.0, 2.0, 5.0, 2.0, 2.0, 1.6, 4.0, 1.8, 1.5, 1.4, 3.5, 1.6, 2.0, 1.4, 3.0, 1.4, 1.5, 1.2,
               2.0, 1.3, 4.0, 1.4, 1.5, 1.2, 7.0, 1.6, 2.0, 1.3, 3.5, 1.4, 1.2, 1.0, 3.0, 1.3, 1.5, 1.2, 4.5, 1.6]
wheat_jump = [0.6, 0.1, 2.8, 0.3, 0.2, 0.5, 1.7, 0.2, 0.3, 0.1, 1.2, 0.4, 2.9, 0.2, 0.4, 0.1, 2.8, 0.3, 0.3, 0.5,
              2.9, 0.2, 0.2, 0.6, 3.6, 0.3, 0.5, 0.1, 2.8, 0.4, 0.3, 0.1, 2.6, 0.2, 1.5, 0.3, 0.2, 0.5, 2.2, 0.1,
              0.3, 0.1, 1.6, 0.4, 5.0, 0.2, 0.4, 0.6, 1.8, 0.1, 0.2, 0.5, 3.2, 0.3, 6.4, 0.2, 0.5, 0.8, 1.8, 0.3,
              1.2, 0.3, 0.3, 0.8, 2.4, 0.2, 6.1, 0.4, 0.6, 1.2, 3.3, 0.3, 0.4, 0.9, 3.6, 0.2, 3.0, 0.5, 3.1, 0.3,
              0.3, 0.1, 2.8, 0.4, 0.5, 0.2, 1.2, 0.5, 2.2, 0.2, 0.3, 0.6, 1.5, 0.1, 0.4, 0.3, 1.0, 0.2, 0.2, 0.4,
              1.6, 0.3, 0.5, 0.9, 3.0, 0.2, 1.2, 0.4, 2.2, 0.3, 0.3, 0.7, 1.7, 0.2, 0.5, 0.9, 1.6, 0.3, 0.2, 0.5,
              0.6, 0.2, 0.3, 0.5, 0.7, 0.2, 0.2, 0.4, 0.5, 0.2, 0.3, 0.5, 0.6, 0.2, 1.0, 0.4, 0.3, 0.2, 0.5, 0.3,
              1.1, 0.2, 0.3, 0.5, 0.6, 0.2, 1.4, 0.3, 0.2, 0.4, 0.5, 0.2, 0.3, 0.5, 0.6, 0.2, 0.2, 0.4, 0.5, 0.2,
              0.4, 0.2, 0.6, 0.3, 0.2, 0.4, 3.7, 0.3, 0.4, 0.5, 1.0, 0.2, 0.3, 0.6, 0.8, 0.3, 0.4, 0.2, 1.0, 0.3,
              0.6, 0.3, 2.6, 0.4, 0.4, 0.6, 4.4, 0.3, 2.1, 0.5, 0.3, 0.6, 1.0, 0.3, 0.4, 0.7, 0.9, 0.3, 0.3, 0.5,
              1.6, 0.3, 0.4, 0.7, 2.2, 0.3, 0.3, 0.6, 1.8, 0.3, 0.4, 0.8, 2.6, 0.4, 0.5, 0.7, 1.5, 0.3, 0.3, 0.6,
              1.0, 0.3, 0.4, 0.6, 1.6, 0.3, 0.3, 0.5, 0.8, 0.3, 0.4, 0.6, 1.2, 0.3, 0.3, 0.5, 1.0, 0.3, 0.4, 0.6,
              2.0, 0.3, 0.5, 0.6, 1.0, 0.3, 0.3, 0.5, 0.8, 0.3, 0.4, 0.6, 1.0, 0.3, 0.3, 0.5, 0.9, 0.3, 0.4, 0.5,
              1.5, 0.3, 2.8, 0.4, 0.5, 0.7, 1.7, 0.3, 0.4, 0.6, 2.0, 0.3, 0.3, 0.5, 1.3, 0.3, 0.5, 0.7, 1.2, 0.3,
              0.4, 0.2, 1.0, 0.3, 0.3, 0.5, 0.9, 0.3, 0.4, 0.5, 1.2, 0.3, 0.3, 0.5, 0.6, 0.2, 0.4, 0.5, 2.0, 0.3]

commodities = ['Corn', 'Rice', 'Soy', 'Sugar', 'Wheat']
rv_list = [corn_rv, rice_rv, soy_rv, sugar_rv, wheat_rv]
medrv_list = [corn_medrv, rice_medrv, soy_medrv, sugar_medrv, wheat_medrv]
jump_list = [corn_jump, rice_jump, soy_jump, sugar_jump, wheat_jump]

rv_ylim = [20, 20, 15, 60, 30]
rv_yticks = [[0, 10, 20], [0, 10, 20], [0, 5, 10, 15], [0, 25, 50], [0, 10, 20, 30]]
jump_ylim = [6, 15, 6, 6, 10]
jump_yticks = [[0, 2, 4, 6], [0, 5, 10, 15], [0, 2, 4, 6], [0, 2, 4, 6], [0, 5, 10]]

#############
# Procedure #
#############

blue = '#0072BD'
orange = '#D95319'
axcol = '#262626'

W, H = 1255, 785
fig = plt.figure(figsize=(W / 100, H / 100), dpi=100)

row_px = [(25, 123), (185, 283), (345, 442), (505, 601), (663, 761)]
col_px = [(30, 620), (670, 1232)]

def style_axes(ax, n, ylim, yticks):
    ax.set_xlim(0, n - 1)
    ax.set_ylim(0, ylim)
    ax.set_yticks(yticks)
    ax.set_xticks(np.linspace(0, n - 1, len(date_labels)))
    ax.set_xticklabels(date_labels)
    ax.tick_params(direction='in', top=True, right=True, length=4, width=0.6,
                   labelsize=10, colors=axcol)
    ax.tick_params(axis='x', pad=4)
    ax.tick_params(axis='y', pad=5)
    for s in ax.spines.values():
        s.set_linewidth(0.6)
        s.set_color(axcol)

for i, name in enumerate(commodities):
    top, bot = row_px[i]
    rv = np.array(rv_list[i])
    med = np.array(medrv_list[i])
    jp = np.array(jump_list[i])

    # realized volatilities
    l, r = col_px[0]
    ax = fig.add_axes([l / W, 1 - bot / H, (r - l) / W, (bot - top) / H])
    ax.plot(np.arange(len(rv)), rv, color=blue, lw=0.7, label='$RV_t$')
    ax.plot(np.arange(len(med)), med, color=orange, lw=0.7, label='$MedRV_t$')
    style_axes(ax, len(rv), rv_ylim[i], rv_yticks[i])
    ax.set_title('Realized Volatilities of ' + name, fontfamily='cmr10',
                 fontsize=10.5, pad=5)
    leg = ax.legend(loc='upper right', fontsize=9, fancybox=False, framealpha=1,
                    edgecolor='black', handlelength=3.2, borderaxespad=0.7,
                    labelspacing=0.3, handletextpad=0.6)
    leg.get_frame().set_linewidth(0.8)

    # jumps
    l, r = col_px[1]
    ax = fig.add_axes([l / W, 1 - bot / H, (r - l) / W, (bot - top) / H])
    ax.plot(np.arange(len(jp)), jp, color=blue, lw=0.7, label=r'$J_{t,\alpha}$')
    style_axes(ax, len(jp), jump_ylim[i], jump_yticks[i])
    ax.set_title(r'Jumps $J_{t,\alpha}$ of ' + name, fontfamily='cmr10',
                 fontsize=10.5, pad=5)
    leg = ax.legend(loc='upper right', fontsize=9, fancybox=False, framealpha=1,
                    edgecolor='black', handlelength=3.2, borderaxespad=0.8,
                    handletextpad=0.6)
    leg.get_frame().set_linewidth(0.8)

fig.savefig('out.png', dpi=100)
